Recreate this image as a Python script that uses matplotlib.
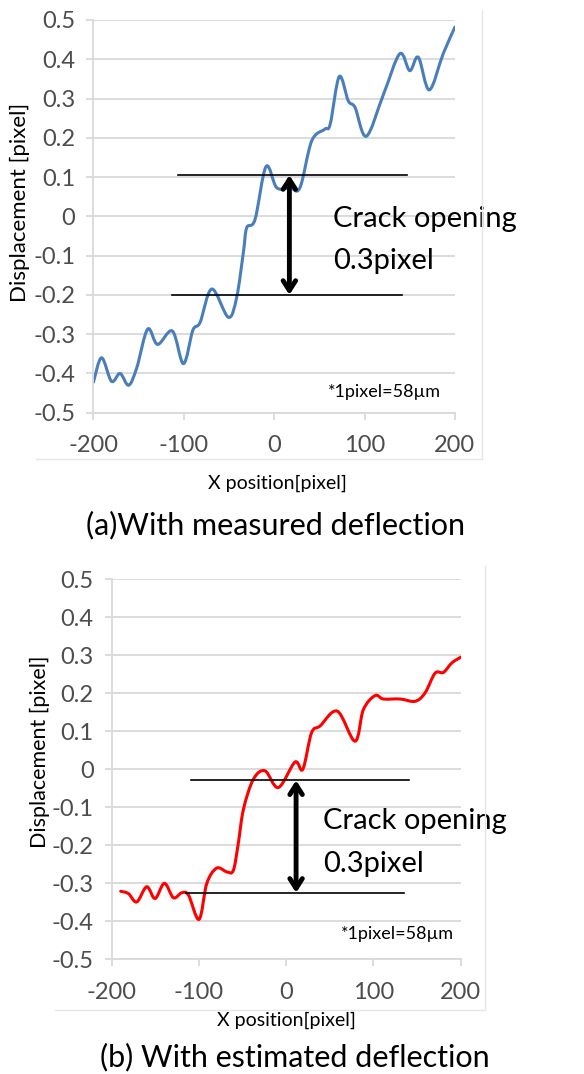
import numpy as np
import matplotlib.pyplot as plt
from matplotlib.lines import Line2D
from matplotlib.path import Path
from matplotlib.patches import PathPatch

plt.rcParams['font.family'] = ['Lato', 'DejaVu Sans']

# (a) measured deflection
xa = [-200, -191, -180, -170.5, -161, -152, -140, -129, -112.6, -100.4, -90, -82, -69, -50.7,
      -41.5, -34, -30.4, -21.2, -9, 2.8, 17.5, 28.5, 41.5, 56, 62, 72, 82, 89.5, 102, 121, 139,
      150, 159.5, 171.6, 187, 200]
ya = [-0.422, -0.36, -0.42, -0.40, -0.43, -0.385, -0.287, -0.326, -0.292, -0.375, -0.29, -0.27,
      -0.185, -0.257, -0.206, -0.09, -0.029, -0.008, 0.127, 0.073, 0.073, 0.073, 0.192, 0.222,
      0.235, 0.356, 0.294, 0.277, 0.204, 0.311, 0.414, 0.371, 0.405, 0.322, 0.414, 0.482]

# (b) estimated deflection
xb = [-189.7, -180.9, -171.3, -159.9, -150.3, -139.6, -129.3, -119.8, -112, -99.9, -91, -79.7,
      -68, -60.6, -55, -49, -37.6, -24.3, -9, 10, 19, 29, 38.8, 58.6, 78.9, 88.4, 101.8, 111.4,
      130.5, 147.7, 159.1, 170.6, 180.2, 189.8, 200]
yb = [-0.321, -0.327, -0.349, -0.309, -0.34, -0.30, -0.338, -0.325, -0.331, -0.395, -0.30, -0.26,
      -0.27, -0.266, -0.196, -0.105, -0.026, -0.004, -0.048, 0.019, 0.0, 0.096, 0.114, 0.153,
      0.074, 0.157, 0.194, 0.185, 0.185, 0.179, 0.201, 0.253, 0.255, 0.28, 0.295]

xticks = [-200, -100, 0, 100, 200]
yticks = [-0.5, -0.4, -0.3, -0.2, -0.1, 0, 0.1, 0.2, 0.3, 0.4, 0.5]
ytick_labels = ['-0.5', '-0.4', '-0.3', '-0.2', '-0.1', '0', '0.1', '0.2', '0.3', '0.4', '0.5']

# crack opening markers: (upper y, upper x-span, lower y, lower x-span, arrow x)
open_a = (0.105, (-106, 147), -0.200, (-113, 141), 16.8)
open_b = (-0.029, (-109.5, 141), -0.325, (-115, 135.4), 11.3)

fig = plt.figure(figsize=(5.84, 10.74), dpi=100)
ax1 = fig.add_axes([0.160, 0.6157, 0.619, 0.3657])
ax2 = fig.add_axes([0.1913, 0.1068, 0.5976, 0.3538])

grid_c = '#d9d9d9'
tick_c = '#4d4d4d'


def style(ax):
    ax.set_xlim(-200, 200)
    ax.set_ylim(-0.5, 0.5)
    ax.set_xticks(xticks)
    ax.set_xticklabels([str(v) for v in xticks])
    ax.set_yticks(yticks)
    ax.set_yticklabels(ytick_labels)
    ax.grid(axis='y', color=grid_c, lw=1.3)
    ax.set_axisbelow(True)
    for s in ['top', 'right']:
        ax.spines[s].set_visible(False)
    for s in ['left', 'bottom']:
        ax.spines[s].set_color(grid_c)
        ax.spines[s].set_linewidth(1.3)
    ax.tick_params(axis='both', colors=grid_c, labelcolor=tick_c, labelsize=17,
                   length=5, width=1.3)
    ax.tick_params(axis='y', pad=8)
    ax.tick_params(axis='x', pad=11)


def smooth_line(ax, x, y, color):
    # smoothed polyline as cubic Bezier segments (Catmull-Rom style control points)
    p = np.column_stack([x, y]).astype(float)
    ext = np.vstack([p[0], p, p[-1]])
    verts = [p[0]]
    codes = [Path.MOVETO]
    for i in range(len(p) - 1):
        p0, p1, p2, p3 = ext[i], ext[i + 1], ext[i + 2], ext[i + 3]
        verts += [p1 + (p2 - p0) / 6.0, p2 - (p3 - p1) / 6.0, p2]
        codes += [Path.CURVE4] * 3
    ax.add_patch(PathPatch(Path(verts, codes), facecolor='none', edgecolor=color,
                           lw=2.2, joinstyle='round', capstyle='round'))


def crack(ax, spec, tx, ty1, ty2):
    yu, xu, yl, xl, xarr = spec
    ax.plot(xu, [yu, yu], color='black', lw=1.2, clip_on=False)
    ax.plot(xl, [yl, yl], color='black', lw=1.2, clip_on=False)
    ax.annotate('', xy=(xarr, yu), xytext=(xarr, yl),
                arrowprops=dict(arrowstyle='<->,head_length=0.7,head_width=0.45',
                                lw=3.5, color='black', shrinkA=0, shrinkB=0))
    ax.text(tx, ty1, 'Crack opening', fontsize=21, va='center', ha='left', clip_on=False)
    ax.text(tx, ty2, '0.3pixel', fontsize=21, va='center', ha='left', clip_on=False)


style(ax1)
smooth_line(ax1, xa, ya, '#4a7ebb')
crack(ax1, open_a, 65.4, -0.008, -0.114)
ax1.text(0.96, 0.032, '*1pixel=58\u00b5m', transform=ax1.transAxes, fontsize=13,
         ha='right', va='bottom')

style(ax2)
smooth_line(ax2, xb, yb, '#ff0000')
crack(ax2, open_b, 41.8, -0.135, -0.248)
ax2.text(0.98, 0.045, '*1pixel=58\u00b5m', transform=ax2.transAxes, fontsize=13,
         ha='right', va='bottom')

# axis titles
fig.text(20 / 584, 1 - 202 / 1074, 'Displacement [pixel]', rotation=90, fontsize=16,
         ha='center', va='center')
fig.text(40 / 584, 1 - 752 / 1074, 'Displacement [pixel]', rotation=90, fontsize=15.5,
         ha='center', va='center')
fig.text(277 / 584, 1 - 483 / 1074, 'X position[pixel]', fontsize=14, ha='center', va='center')
fig.text(286 / 584, 1 - 1020 / 1074, 'X position[pixel]', fontsize=14, ha='center', va='center')

# captions
fig.text(276 / 584, 1 - 525 / 1074, '(a)With measured deflection', fontsize=22,
         ha='center', va='center')
fig.text(295 / 584, 1 - 1057 / 1074, '(b) With estimated deflection', fontsize=22,
         ha='center', va='center')

# chart area frames
H = 1074.0
W = 584.0
for (x0, x1, ytop, ybot) in [(36, 481.7, 10, 459), (55, 485, 566, 1010)]:
    fig.add_artist(Line2D([x1 / W, x1 / W], [1 - ytop / H, 1 - ybot / H], color='#e6e6e6', lw=1))
    fig.add_artist(Line2D([x0 / W, x1 / W], [1 - ybot / H, 1 - ybot / H], color='#e6e6e6', lw=1))

fig.savefig('out.png', dpi=100)
